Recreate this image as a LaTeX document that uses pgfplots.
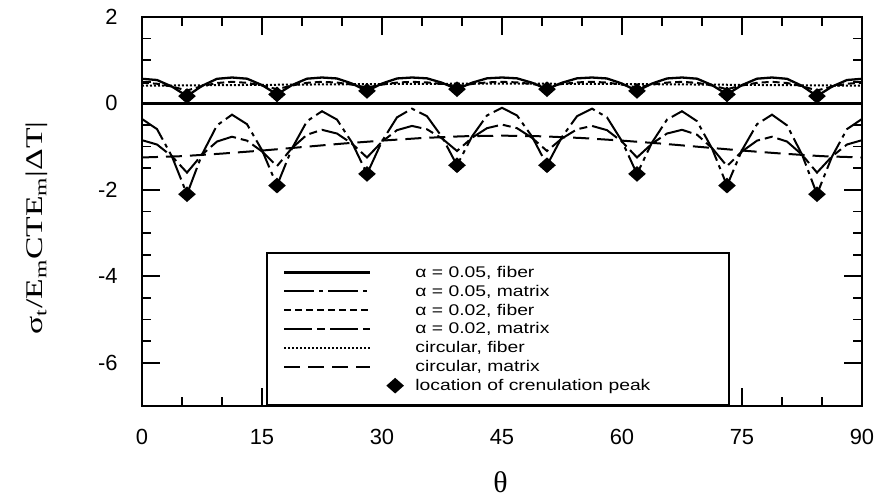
\documentclass[border=0pt]{standalone}
\usepackage{graphicx}
\usepackage{pgfplots}
\pgfplotsset{compat=1.18}
\usepackage{fontspec}
\setmainfont{Liberation Sans}
\newfontfamily\serif{Liberation Serif}

\pgfplotsset{
  linelegend/.style={legend image code/.code={\draw[##1, mark=none] (0bp,0bp) -- (86bp,0bp); \path[draw=none,fill=none] (117bp,0bp);}},
  diamondlegend/.style={legend image code/.code={\path[draw=none,fill=none] (0bp,0bp) -- (117bp,0bp); \draw[##1] plot coordinates {(111bp,0bp)};}},
}
\newcommand{\legtxt}[1]{\makebox[296bp][l]{\scalebox{1.25}[1]{#1}}}

\pgfplotstableread{
x y
0 -0.36
1.875 -0.593
3.75 -1.23
5.625 -2.10
7.5 -1.18
9.375 -0.507
11.25 -0.26
13.125 -0.48
15 -1.08
16.875 -1.90
18.75 -1.04
20.625 -0.41
22.5 -0.18
24.375 -0.374
26.25 -0.905
28.125 -1.63
30 -0.875
31.875 -0.322
33.75 -0.12
35.625 -0.296
37.5 -0.775
39.375 -1.43
41.25 -0.765
43.125 -0.278
45 -0.10
46.875 -0.278
48.75 -0.765
50.625 -1.43
52.5 -0.775
54.375 -0.296
56.25 -0.12
58.125 -0.322
60 -0.875
61.875 -1.63
63.75 -0.905
65.625 -0.374
67.5 -0.18
69.375 -0.41
71.25 -1.04
73.125 -1.90
75 -1.08
76.875 -0.48
78.75 -0.26
80.625 -0.507
82.5 -1.18
84.375 -2.10
86.25 -1.23
88.125 -0.593
90 -0.36
}\afivematrix

\pgfplotstableread{
x y
0 -0.85
1.875 -0.95
3.75 -1.225
5.625 -1.60
7.5 -1.185
9.375 -0.881
11.25 -0.77
13.125 -0.861
15 -1.11
16.875 -1.45
18.75 -1.03
20.625 -0.723
22.5 -0.61
24.375 -0.696
26.25 -0.93
28.125 -1.25
30 -0.885
31.875 -0.618
33.75 -0.52
35.625 -0.598
37.5 -0.81
39.375 -1.10
41.25 -0.795
43.125 -0.572
45 -0.49
46.875 -0.572
48.75 -0.795
50.625 -1.10
52.5 -0.81
54.375 -0.598
56.25 -0.52
58.125 -0.618
60 -0.885
61.875 -1.25
63.75 -0.93
65.625 -0.696
67.5 -0.61
69.375 -0.723
71.25 -1.03
73.125 -1.45
75 -1.11
76.875 -0.861
78.75 -0.77
80.625 -0.881
82.5 -1.185
84.375 -1.60
86.25 -1.225
88.125 -0.95
90 -0.85
}\atwomatrix

\pgfplotstableread{
x y
0 0.57
1.875 0.542
3.75 0.39
5.625 0.17
7.5 0.407
9.375 0.57
11.25 0.60
13.125 0.573
15 0.425
16.875 0.21
18.75 0.425
20.625 0.573
22.5 0.60
24.375 0.578
26.25 0.46
28.125 0.29
30 0.46
31.875 0.578
33.75 0.60
35.625 0.581
37.5 0.479
39.375 0.33
41.25 0.479
43.125 0.581
45 0.60
46.875 0.581
48.75 0.479
50.625 0.33
52.5 0.479
54.375 0.581
56.25 0.60
58.125 0.578
60 0.46
61.875 0.29
63.75 0.46
65.625 0.578
67.5 0.60
69.375 0.573
71.25 0.425
73.125 0.21
75 0.425
76.875 0.573
78.75 0.60
80.625 0.57
82.5 0.407
84.375 0.17
86.25 0.39
88.125 0.542
90 0.57
}\afivefiber

\pgfplotstableread{
x y
0 0.48
1.875 0.456
3.75 0.39
5.625 0.30
7.5 0.40
9.375 0.473
11.25 0.50
13.125 0.477
15 0.415
16.875 0.33
18.75 0.415
20.625 0.477
22.5 0.50
24.375 0.483
26.25 0.435
28.125 0.37
30 0.435
31.875 0.483
33.75 0.50
35.625 0.487
37.5 0.45
39.375 0.40
41.25 0.45
43.125 0.487
45 0.50
46.875 0.487
48.75 0.45
50.625 0.40
52.5 0.45
54.375 0.487
56.25 0.50
58.125 0.483
60 0.435
61.875 0.37
63.75 0.435
65.625 0.483
67.5 0.50
69.375 0.477
71.25 0.415
73.125 0.33
75 0.415
76.875 0.477
78.75 0.50
80.625 0.473
82.5 0.40
84.375 0.30
86.25 0.39
88.125 0.456
90 0.48
}\atwofiber

\pgfplotstableread{
x y
0 0.41
15 0.43
30 0.45
45 0.46
60 0.45
75 0.43
90 0.41
}\circfiber

\pgfplotstableread{
x y
0 -1.25
5 -1.22
10 -1.16
15 -1.09
20 -1.01
25 -0.93
30 -0.86
35 -0.80
40 -0.76
45 -0.745
50 -0.76
55 -0.80
60 -0.86
65 -0.93
70 -1.01
75 -1.09
80 -1.16
85 -1.22
90 -1.25
}\circmatrix

\pgfplotstableread{
x y
5.625 0.17
16.875 0.21
28.125 0.29
39.375 0.33
50.625 0.33
61.875 0.29
73.125 0.21
84.375 0.17
5.625 -2.10
16.875 -1.90
28.125 -1.63
39.375 -1.43
50.625 -1.43
61.875 -1.63
73.125 -1.90
84.375 -2.10
}\peaks

\begin{document}
\begin{tikzpicture}
\useasboundingbox (-142bp,-96bp) rectangle (737bp,406bp);
\begin{axis}[
  at={(0,0)}, anchor=south west,
  scale only axis, width=720bp, height=389bp,
  xmin=0, xmax=90, ymin=-7, ymax=2,
  xtick={0,15,...,90}, ytick={-6,-4,...,2},
  minor x tick num=2, minor y tick num=3,
  tick align=inside,
  xtick pos=both, ytick pos=both,
  xticklabel pos=lower, yticklabel pos=left,
  major tick length=18bp, minor tick length=9bp,
  every major tick/.append style={line width=2bp, black},
  every minor tick/.append style={line width=1.6bp, black},
  axis line style={line width=2.8bp},
  /pgf/number format/assume math mode=true,
  ticklabel style={font=\fontsize{22}{26}\selectfont},
  yticklabel style={xshift=-20bp},
  xticklabel style={yshift=-19bp},
  every axis y label/.style={at={(axis description cs:-0.146,0.458)}, rotate=90, anchor=center},
  every axis x label/.style={at={(axis description cs:0.498,-0.196)}, anchor=center},
  ylabel={\scalebox{1.41}[1]{\fontsize{24}{28}\serif σ\textsubscript{t}/E\textsubscript{m}CTE\textsubscript{m}|ΔT|}},
  xlabel={\fontsize{30}{32}\serif θ},
  legend style={draw=black, fill=white, line width=2bp,
    at={(axis description cs:0.1722,0)}, anchor=south west,
    inner xsep=16bp, inner ysep=11bp, row sep=2.2bp, font=\fontsize{15.5}{18}\selectfont,
    /tikz/every odd column/.append style={column sep=11bp}},
  legend cell align=left,
  linelegend,
  line width=2bp,
]
\addplot[black, line width=2.4bp, forget plot] coordinates {(0,0) (90,0)};
\addplot[black, line width=2.3bp] table {\afivefiber};
\addlegendentry{\legtxt{α = 0.05, fiber}}
\addplot[black, dash pattern=on 30bp off 5bp on 4bp off 5bp] table {\afivematrix};
\addlegendentry{\legtxt{α = 0.05, matrix}}
\addplot[black, dash pattern=on 7bp off 4bp] table {\atwofiber};
\addlegendentry{\legtxt{α = 0.02, fiber}}
\addplot[black, dash pattern=on 28bp off 5bp on 8bp off 5bp] table {\atwomatrix};
\addlegendentry{\legtxt{α = 0.02, matrix}}
\addplot[black, dash pattern=on 2bp off 2bp] table {\circfiber};
\addlegendentry{\legtxt{circular, fiber}}
\addplot[black, dash pattern=on 16bp off 8bp] table {\circmatrix};
\addlegendentry{\legtxt{circular, matrix}}
\addplot[black, only marks, mark=diamond*, mark size=6.5bp, mark options={xscale=1.5, solid}, diamondlegend]
  table {\peaks};
\addlegendentry{\legtxt{location of crenulation peak}}
\end{axis}
\end{tikzpicture}
\end{document}
